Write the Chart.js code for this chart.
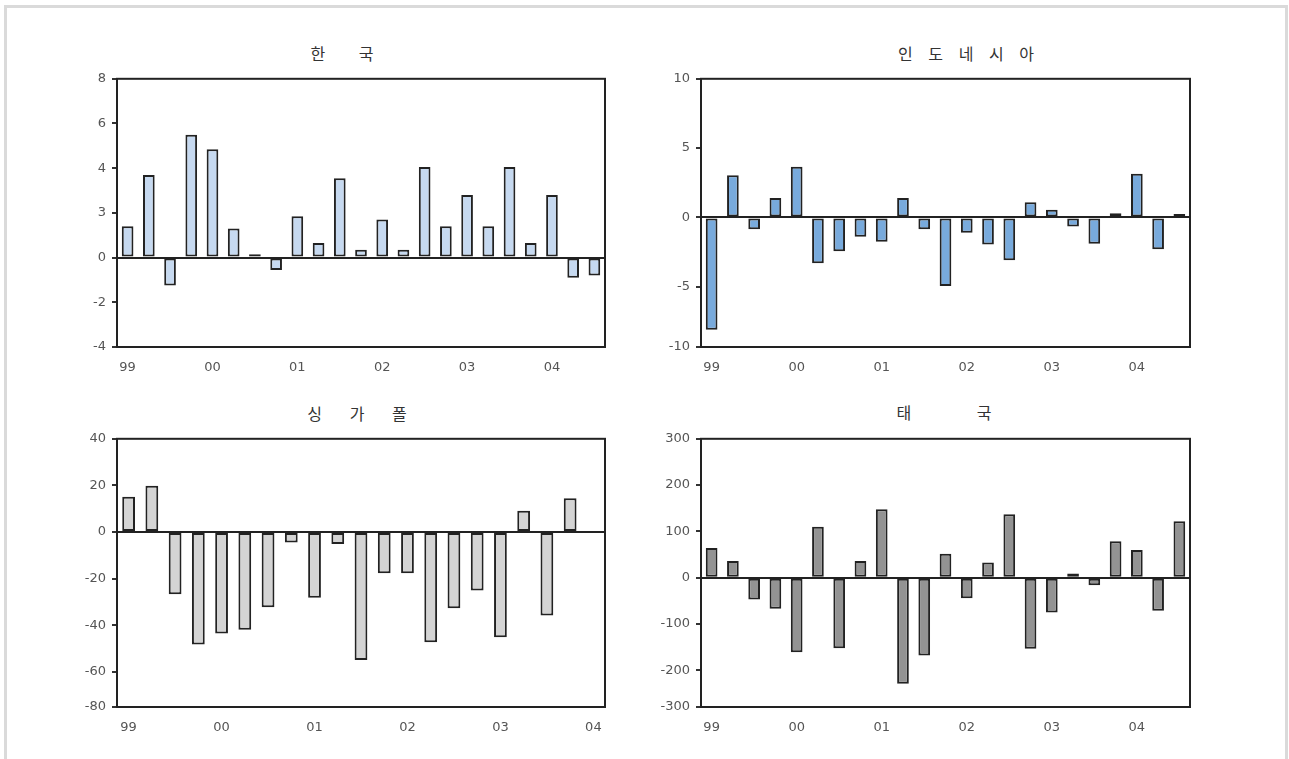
<!DOCTYPE html>
<html>
<head>
<meta charset="utf-8">
<script src="https://cdn.jsdelivr.net/npm/chart.js@4.4.1/dist/chart.umd.min.js"></script>
<style>
  html, body { margin: 0; padding: 0; background: #fff; width: 1289px; height: 759px; overflow: hidden; }
  #frame { position: absolute; left: 4px; top: 5px; width: 1284px; height: 800px;
           border: 3px solid #dadada; border-bottom: none; box-sizing: border-box; }
  .panel { position: absolute; }
  .ttl { position: absolute; transform: translate(-50%, -50%); font-family: "Noto Sans CJK KR", sans-serif;
         font-size: 16px; color: #333; white-space: pre; line-height: 1; }
</style>
</head>
<body>
<div id="frame"></div>

<script>
// ---------------- data ----------------
// Quarterly categories (year.quarter)
const quarters23 = ['99.1','99.2','99.3','99.4','00.1','00.2','00.3','00.4','01.1','01.2','01.3','01.4',
                    '02.1','02.2','02.3','02.4','03.1','03.2','03.3','03.4','04.1','04.2','04.3'];
const quarters21 = ['99.1','99.2','99.3','99.4','00.1','00.2','00.3','00.4','01.1','01.2','01.3','01.4',
                    '02.1','02.2','02.3','02.4','03.1','03.2','03.3','03.4','04.1'];

const koreaValues = [1.4, 3.7, -1.25, 5.5, 4.85, 1.3, 0.15, -0.55, 1.85, 0.65, 3.55, 0.35,
                     1.7, 0.35, 4.05, 1.4, 2.8, 1.4, 4.05, 0.65, 2.8, -0.9, -0.8];
const indonesiaValues = [-8.1, 3.05, -0.85, 1.4, 3.65, -3.3, -2.45, -1.4, -1.75, 1.4, -0.85, -4.95,
                         -1.1, -1.95, -3.1, 1.1, 0.55, -0.65, -1.9, 0.3, 3.15, -2.3, 0.25];
const singaporeValues = [15.2, 19.9, -26.7, -48.2, -43.5, -41.9, -32.2, -4.5, -28.2, -5.1, -54.9,
                         -17.6, -17.6, -47.2, -32.7, -25.1, -45.1, 9.1, -35.8, 14.5, null];
const thailandValues = [64, 36, -47, -67, -161, 110, -152, 36, 148, -229, -168, 52, -44, 33, 137,
                        -153, -75, 9, -16, 79, 60, -71, 122];

// y-axis ticks as printed on the reference (values and labels, ascending)
const koreaTickValues = [-4, -2, 0, 2, 4, 6, 8];
const koreaTickLabels = ['-4', '-2', '0', '3', '4', '6', '8'];
const indonesiaTickValues = [-9.35, -5, 0, 5, 10];
const indonesiaTickLabels = ['-10', '-5', '0', '5', '10'];
const singaporeTickValues = [-75, -60, -40, -20, 0, 20, 40];
const singaporeTickLabels = ['-80', '-60', '-40', '-20', '0', '20', '40'];
const thailandTickValues = [-279, -200, -100, 0, 100, 200, 300];
const thailandTickLabels = ['-300', '-200', '-100', '0', '100', '200', '300'];

const titles = ['한 국', '인 도 네 시 아', '싱 가 폴', '태 국'];

// ---------------- drawing ----------------
const frameBox = {
  id: 'frameBox',
  afterDraw(chart) {
    const a = chart.chartArea, c = chart.ctx;
    c.save();
    c.strokeStyle = '#222';
    c.lineWidth = 2;
    c.strokeRect(a.left, a.top, a.right - a.left, a.bottom - a.top);
    c.restore();
  }
};

const Y_W = 67, PAD_R = 15, PAD_T = 10, X_H = 38;

function makePanel(cfg) {
  const w = cfg.right - cfg.left + Y_W + PAD_R;
  const h = cfg.bottom - cfg.top + PAD_T + X_H;
  const div = document.createElement('div');
  div.className = 'panel';
  div.style.left = (cfg.left - Y_W) + 'px';
  div.style.top = (cfg.top - PAD_T) + 'px';
  const cv = document.createElement('canvas');
  cv.width = w; cv.height = h;
  cv.style.width = w + 'px'; cv.style.height = h + 'px';
  div.appendChild(cv);
  document.body.appendChild(div);

  const t = document.createElement('div');
  t.className = 'ttl';
  t.textContent = cfg.title;
  t.style.letterSpacing = cfg.titleSpacing + 'px';
  t.style.paddingLeft = cfg.titleSpacing + 'px';
  t.style.left = cfg.titleX + 'px';
  t.style.top = cfg.titleY + 'px';
  document.body.appendChild(t);

  const tickFont = { family: '"DejaVu Sans", sans-serif', size: 13 };
  new Chart(cv, {
    type: 'bar',
    data: {
      labels: cfg.labels,
      datasets: [{
        data: cfg.values,
        backgroundColor: cfg.fill,
        borderColor: '#222',
        borderWidth: 2,
        borderSkipped: false,
        barPercentage: 0.55,
        categoryPercentage: 1.0
      }]
    },
    options: {
      responsive: false,
      devicePixelRatio: 1,
      animation: false,
      layout: { padding: { top: PAD_T, right: PAD_R, left: 0, bottom: 0 } },
      plugins: { legend: { display: false }, tooltip: { enabled: false }, title: { display: false } },
      scales: {
        x: {
          grid: { display: false, drawTicks: false },
          border: { display: false },
          ticks: {
            autoSkip: false, maxRotation: 0, minRotation: 0, padding: 13,
            color: '#555', font: tickFont,
            callback: function(v, i) {
              const q = cfg.labels[i];
              return q.endsWith('.1') ? q.split('.')[0] : '';
            }
          },
          afterFit(s) { s.height = X_H; }
        },
        y: {
          min: cfg.tickValues[0],
          max: cfg.tickValues[cfg.tickValues.length - 1],
          grid: {
            drawOnChartArea: true, drawTicks: true, tickLength: 5,
            color: (c) => (c.tick && c.tick.value === 0) ? '#222' : 'rgba(0,0,0,0)',
            tickColor: '#333', lineWidth: 2
          },
          border: { display: false },
          ticks: {
            padding: 6, color: '#555', font: tickFont,
            callback: (v, i) => cfg.tickLabels[i]
          },
          afterBuildTicks(s) { s.ticks = cfg.tickValues.map(v => ({ value: v })); },
          afterFit(s) { s.width = Y_W; }
        }
      }
    },
    plugins: [frameBox]
  });
}

makePanel({ left: 117, right: 605, top: 75, bottom: 347, labels: quarters23, values: koreaValues,
            fill: '#c6d9f0', tickValues: koreaTickValues, tickLabels: koreaTickLabels,
            title: titles[0], titleX: 342, titleY: 53, titleSpacing: 15 });
makePanel({ left: 701, right: 1190, top: 75, bottom: 347, labels: quarters23, values: indonesiaValues,
            fill: '#78aadc', tickValues: indonesiaTickValues, tickLabels: indonesiaTickLabels,
            title: titles[1], titleX: 966, titleY: 53, titleSpacing: 6 });
makePanel({ left: 117, right: 605, top: 435, bottom: 707, labels: quarters21, values: singaporeValues,
            fill: '#d4d4d4', tickValues: singaporeTickValues, tickLabels: singaporeTickLabels,
            title: titles[2], titleX: 357, titleY: 413, titleSpacing: 12 });
makePanel({ left: 701, right: 1190, top: 435, bottom: 707, labels: quarters23, values: thailandValues,
            fill: '#939393', tickValues: thailandTickValues, tickLabels: thailandTickLabels,
            title: titles[3], titleX: 944, titleY: 412, titleSpacing: 31 });
</script>
</body>
</html>
